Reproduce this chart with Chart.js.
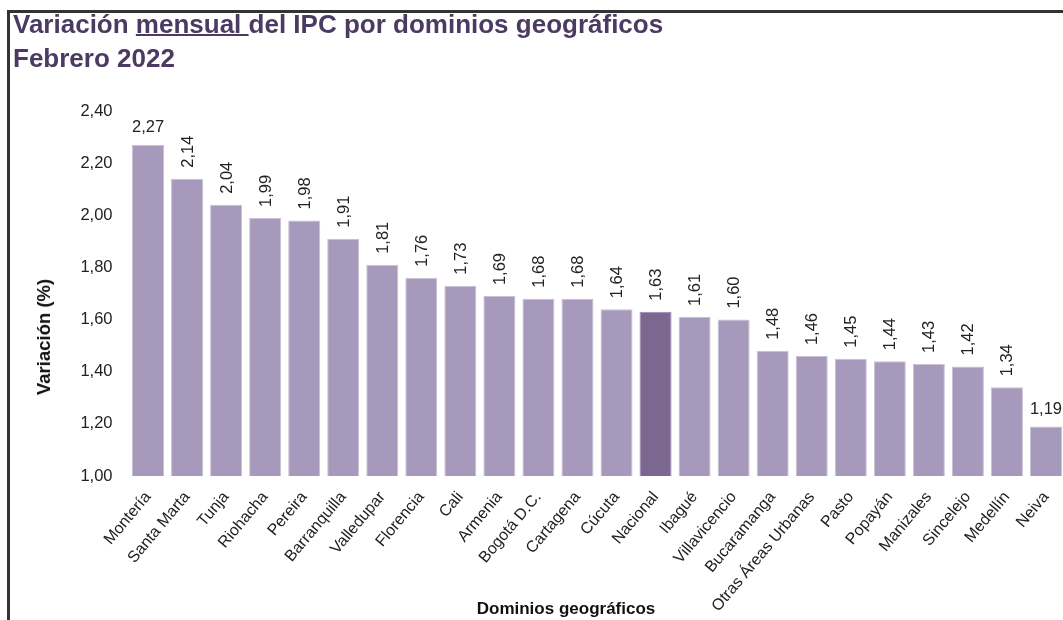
<!DOCTYPE html>
<html lang="es">
<head>
<meta charset="utf-8">
<title>Variación mensual del IPC por dominios geográficos</title>
<script src="https://cdn.jsdelivr.net/npm/chart.js@4/dist/chart.umd.min.js"></script>
<style>
    html, body { margin: 0; padding: 0; overflow: hidden; background: #fff; }
    body { width: 1063px; height: 620px; position: relative; font-family: "Liberation Sans", Arial, sans-serif; }
    #frame { position: absolute; left: 7px; top: 10px; width: 2000px; height: 2000px;
             border-top: 3px solid #333; border-left: 3px solid #333; }
    #title { position: absolute; left: 13px; top: 7px; font-size: 26px; line-height: 34px;
             font-weight: bold; color: #4b3a61; white-space: nowrap; }
    #title u { text-decoration-thickness: 2px; }
    #xTitle { position: absolute; left: 566px; top: 599px; transform: translateX(-50%);
              font-size: 17px; line-height: 20px; font-weight: bold; color: #111; white-space: nowrap; }
    #yTitle { position: absolute; left: 44px; top: 337px; transform: translate(-50%, -50%) rotate(-90deg);
              font-size: 18.5px; font-weight: bold; color: #111; white-space: nowrap; }
    #wrap { position: absolute; left: 0; top: 0; width: 1070px; height: 620px; }
</style>
</head>
<body>
<div id="frame"></div>
<div id="wrap"><canvas id="ipcChart"></canvas></div>
<div id="title">Variación <u>mensual </u>del IPC por dominios geográficos<br>Febrero 2022</div>
<div id="yTitle">Variación (%)</div>
<div id="xTitle">Dominios geográficos</div>
<script>
const categories = ["Montería", "Santa Marta", "Tunja", "Riohacha", "Pereira", "Barranquilla",
    "Valledupar", "Florencia", "Cali", "Armenia", "Bogotá D.C.", "Cartagena", "Cúcuta",
    "Nacional", "Ibagué", "Villavicencio", "Bucaramanga", "Otras Áreas Urbanas", "Pasto",
    "Popayán", "Manizales", "Sincelejo", "Medellín", "Neiva"];
const variacion = [2.27, 2.14, 2.04, 1.99, 1.98, 1.91, 1.81, 1.76, 1.73, 1.69, 1.68, 1.68, 1.64,
    1.63, 1.61, 1.60, 1.48, 1.46, 1.45, 1.44, 1.43, 1.42, 1.34, 1.19];
const yTicks = [1.00, 1.20, 1.40, 1.60, 1.80, 2.00, 2.20, 2.40];
const highlight = "Nacional";

const fmt = v => v.toFixed(2).replace(".", ",");

// etiquetas de valor: la primera y la última horizontales, el resto verticales
const valueLabels = {
    id: "valueLabels",
    afterDatasetsDraw(chart) {
        const ctx = chart.ctx;
        const meta = chart.getDatasetMeta(0);
        ctx.save();
        ctx.fillStyle = "#222";
        ctx.font = "16.5px 'Liberation Sans', Arial, sans-serif";
        meta.data.forEach((bar, i) => {
            const txt = fmt(variacion[i]);
            if (i === 0 || i === meta.data.length - 1) {
                ctx.textAlign = "center";
                ctx.textBaseline = "bottom";
                ctx.fillText(txt, bar.x, bar.y - 9);
            } else {
                ctx.save();
                ctx.translate(bar.x + 1, bar.y - 11);
                ctx.rotate(-Math.PI / 2);
                ctx.textAlign = "left";
                ctx.textBaseline = "middle";
                ctx.fillText(txt, 0, 0);
                ctx.restore();
            }
        });
        ctx.restore();
    }
};

const ctx = document.getElementById("ipcChart").getContext("2d");
new Chart(ctx, {
    type: "bar",
    data: {
        labels: categories,
        datasets: [{
            label: "Variación (%)",
            data: variacion,
            backgroundColor: categories.map(c => c === highlight ? "#7c6791" : "#a699bb"),
            borderColor: categories.map(c => c === highlight ? "#9a88ab" : "#c9c0d6"),
            borderWidth: 1,
            categoryPercentage: 1,
            barPercentage: 0.82
        }]
    },
    options: {
        responsive: true,
        maintainAspectRatio: false,
        animation: false,
        layout: { padding: { top: 111, right: 4.5, left: 0, bottom: 0 } },
        plugins: {
            legend: { display: false },
            tooltip: { enabled: false }
        },
        scales: {
            x: {
                grid: { display: false, drawTicks: false },
                border: { display: false },
                ticks: {
                    autoSkip: false,
                    minRotation: 50,
                    maxRotation: 50,
                    padding: 12,
                    color: "#222",
                    font: { family: "'Liberation Sans', Arial, sans-serif", size: 16 }
                },
                afterFit(scale) {
                    scale.height = 144;
                    scale.paddingLeft = 0;
                    scale.paddingRight = 0;
                }
            },
            y: {
                min: yTicks[0],
                max: yTicks[yTicks.length - 1],
                grid: { display: false, drawTicks: false },
                border: { display: false },
                afterBuildTicks(scale) { scale.ticks = yTicks.map(v => ({ value: v })); },
                ticks: {
                    padding: 16,
                    color: "#222",
                    font: { family: "'Liberation Sans', Arial, sans-serif", size: 16.5 },
                    callback: v => fmt(v)
                },
                afterFit(scale) { scale.width = 128.5; }
            }
        }
    },
    plugins: [valueLabels]
});
</script>
</body>
</html>
